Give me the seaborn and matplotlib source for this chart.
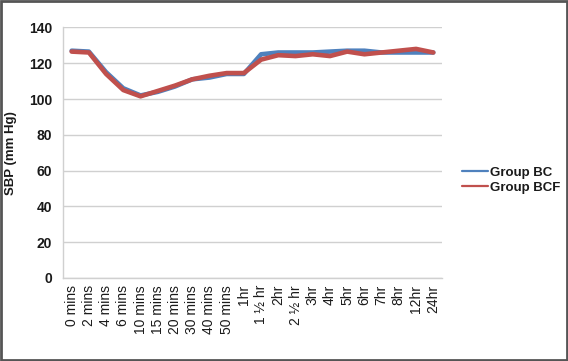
import matplotlib
matplotlib.use("Agg")
import matplotlib.pyplot as plt
import seaborn as sns
import pandas as pd

times = ["0 mins", "2 mins", "4 mins", "6 mins", "10 mins", "15 mins", "20 mins",
         "30 mins", "40 mins", "50 mins", "1hr", "1 ½ hr", "2hr", "2 ½ hr", "3hr",
         "4hr", "5hr", "6hr", "7hr", "8hr", "12hr", "24hr"]
group_bc = [127, 126.5, 115, 106, 102, 104, 107, 111, 112, 114, 114, 125, 126,
            126, 126, 126.5, 127, 127, 126, 126, 126, 126]
group_bcf = [126.5, 126, 114, 105, 101.5, 104.5, 107.5, 111, 113, 114.5, 114.5, 122,
             124.5, 124, 125, 124, 126.5, 125, 126, 127, 128, 126]
series_names = ["Group BC", "Group BCF"]
colors = ["#4F81BD", "#C0504D"]

df = pd.DataFrame({
    "time": times * 2,
    "sbp": group_bc + group_bcf,
    "group": [series_names[0]] * len(times) + [series_names[1]] * len(times),
})

sns.set_theme(style="white")
plt.rcParams["font.family"] = ["Liberation Sans", "DejaVu Sans"]

fig = plt.figure(figsize=(5.68, 3.61), dpi=100)
ax = fig.add_axes([0.111, 0.230, 0.667, 0.694])

sns.lineplot(data=df, x="time", y="sbp", hue="group", palette=colors,
             linewidth=3.3, sort=False, ax=ax, legend=True)

ax.set_xlim(-0.5, len(times) - 0.5)
ax.set_ylim(0, 140)
ax.set_yticks(range(0, 141, 20))
ax.yaxis.grid(True, color="#D0D0D0", linewidth=1)
ax.xaxis.grid(False)
ax.set_axisbelow(True)
for s in ["top", "right"]:
    ax.spines[s].set_visible(False)
for s in ["left", "bottom"]:
    ax.spines[s].set_color("#D0D0D0")
    ax.spines[s].set_linewidth(1)
ax.tick_params(axis="both", length=0)
ax.tick_params(axis="y", pad=8)
ax.tick_params(axis="x", pad=5)
for lab in ax.get_yticklabels():
    lab.set_fontweight("bold")
    lab.set_fontsize(10)
    lab.set_color("#1a1a1a")
ax.set_xticks(range(len(times)))
ax.set_xticklabels(times, rotation=90, fontsize=10, color="#1a1a1a")
ax.set_xlabel("")
ax.set_ylabel("SBP (mm Hg)", fontsize=9.5, fontweight="bold", color="#1a1a1a")
ax.yaxis.set_label_coords(-0.121, 0.5)

leg = ax.legend(loc="center left", bbox_to_anchor=(1.053, 0.39), frameon=False,
                fontsize=9.5, handlelength=2.0, handletextpad=0.15, labelspacing=0.2,
                borderaxespad=0, borderpad=0)
for t in leg.get_texts():
    t.set_fontweight("bold")
    t.set_color("#1a1a1a")
for line in leg.get_lines():
    line.set_linewidth(1.6)

fig.patches.append(plt.Rectangle((0.002, 0.003), 0.996, 0.994, transform=fig.transFigure,
                                 fill=False, edgecolor="#555555", linewidth=2))

fig.savefig("out.png", dpi=100)
